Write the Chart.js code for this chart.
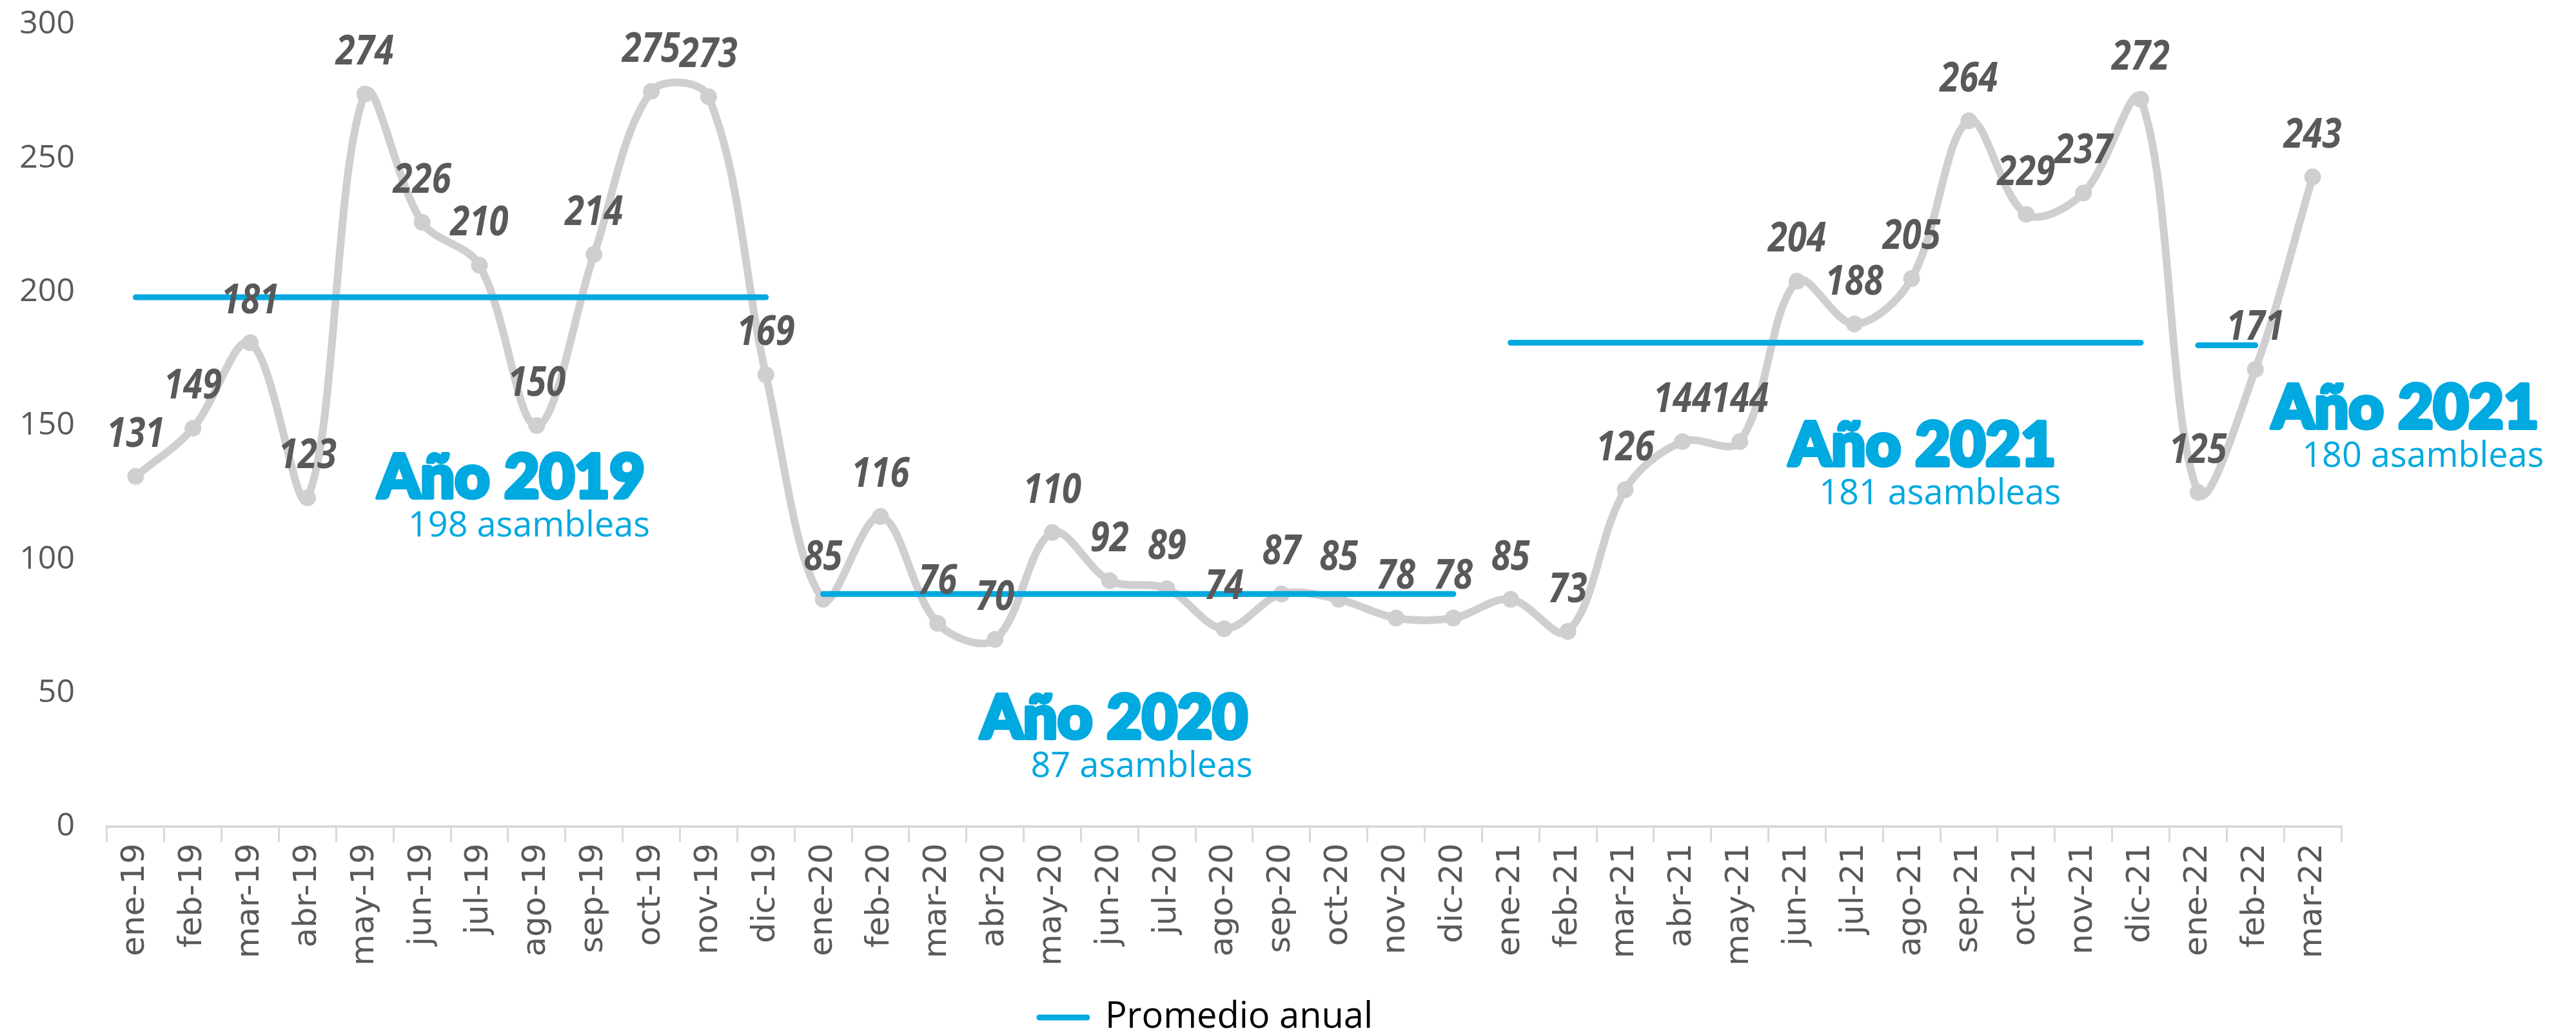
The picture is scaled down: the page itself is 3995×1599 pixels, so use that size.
<!DOCTYPE html>
<html>
<head>
<meta charset="utf-8">
<script src="https://cdn.jsdelivr.net/npm/chart.js@4"></script>
<style>
  html, body { margin: 0; padding: 0; background: #ffffff; }
  #wrap { width: 3995px; height: 1599px; position: relative; }
</style>
</head>
<body>
<div id="wrap"><canvas id="chart"></canvas></div>
<script>
// Asambleas por mes, ene-19 a mar-22
const meses = [
  'ene-19', 'feb-19', 'mar-19', 'abr-19', 'may-19', 'jun-19', 'jul-19', 'ago-19', 'sep-19', 'oct-19', 'nov-19', 'dic-19',
  'ene-20', 'feb-20', 'mar-20', 'abr-20', 'may-20', 'jun-20', 'jul-20', 'ago-20', 'sep-20', 'oct-20', 'nov-20', 'dic-20',
  'ene-21', 'feb-21', 'mar-21', 'abr-21', 'may-21', 'jun-21', 'jul-21', 'ago-21', 'sep-21', 'oct-21', 'nov-21', 'dic-21',
  'ene-22', 'feb-22', 'mar-22'
];

const asambleas = [
  131, 149, 181, 123, 274, 226, 210, 150, 214, 275, 273, 169,
  85, 116, 76, 70, 110, 92, 89, 74, 87, 85, 78, 78,
  85, 73, 126, 144, 144, 204, 188, 205, 264, 229, 237, 272,
  125, 171, 243
];

// Promedio anual (the 2022 line only spans ene-feb in the original)
const promedioAnual = [
  198, 198, 198, 198, 198, 198, 198, 198, 198, 198, 198, 198,
  87, 87, 87, 87, 87, 87, 87, 87, 87, 87, 87, 87,
  181, 181, 181, 181, 181, 181, 181, 181, 181, 181, 181, 181,
  180, 180, null
];

const yTicks = [0, 50, 100, 150, 200, 250, 300];

const notaTitulos = ['Año 2019', 'Año 2020', 'Año 2021', 'Año 2021'];
const notaTextos = ['198 asambleas', '87 asambleas', '181 asambleas', '180 asambleas'];

// where the year notes sit: [category index of right edge, value at title baseline]
const notaPos = [[8.91, 123], [19.43, 33], [33.54, 135], [41.97, 149]];

const BLUE = '#00A9E0';
const GREY = '#D0CECE';
const TEXT = '#595959';

// value labels above the grey line
const valueLabels = {
  id: 'valueLabels',
  afterDatasetsDraw(chart) {
    const meta = chart.getDatasetMeta(0);
    const ctx = chart.ctx;
    ctx.save();
    ctx.font = 'italic bold 64px "Open Sans", sans-serif';
    ctx.fillStyle = TEXT;
    ctx.textAlign = 'center';
    ctx.textBaseline = 'middle';
    meta.data.forEach((pt, i) => {
      ctx.save();
      ctx.translate(pt.x, pt.y - 64);
      ctx.scale(0.85, 1); // narrow digits, like the original font
      ctx.fillText(String(asambleas[i]), 0, 0);
      ctx.restore();
    });
    ctx.restore();
  }
};

// "Año XXXX / NN asambleas" notes
const yearNotes = {
  id: 'yearNotes',
  afterDraw(chart) {
    const ctx = chart.ctx;
    const xs = chart.scales.x;
    const ys = chart.scales.y;
    ctx.save();
    ctx.fillStyle = BLUE;
    ctx.strokeStyle = BLUE;
    ctx.lineJoin = 'round';
    ctx.textAlign = 'right';
    ctx.textBaseline = 'alphabetic';
    notaTitulos.forEach((t, i) => {
      const x = xs.getPixelForValue(notaPos[i][0]);
      const y = ys.getPixelForValue(notaPos[i][1]);
      ctx.font = '900 94px Lato, "Open Sans", sans-serif';
      ctx.lineWidth = 6;
      ctx.strokeText(t, x - 2, y);
      ctx.fillText(t, x - 2, y);
      ctx.font = '54px "Open Sans", sans-serif';
      ctx.fillText(notaTextos[i], x + 6, y + 60);
    });
    ctx.restore();
  }
};

// legend sits a little right of the layout centre in the original
const legendShift = {
  id: 'legendShift',
  beforeDraw(chart) {
    chart.legend.left += 42;
    chart.legend.right += 42;
  }
};

const chart = new Chart(document.getElementById('chart'), {
  type: 'line',
  data: {
    labels: meses,
    datasets: [
      {
        label: 'Asambleas',
        data: asambleas,
        borderColor: GREY,
        backgroundColor: GREY,
        borderWidth: 12,
        tension: 0.35,
        pointRadius: 13,
        pointBackgroundColor: GREY,
        pointBorderColor: GREY,
        pointBorderWidth: 0,
        order: 2
      },
      {
        label: 'Promedio anual',
        data: promedioAnual,
        borderColor: BLUE,
        backgroundColor: BLUE,
        borderWidth: 9,
        borderCapStyle: 'round',
        tension: 0,
        pointRadius: 0,
        spanGaps: false,
        segment: {
          borderColor: c => c.p0.parsed.y === c.p1.parsed.y ? BLUE : 'transparent'
        },
        order: 1
      }
    ]
  },
  options: {
    responsive: true,
    maintainAspectRatio: false,
    animation: false,
    layout: {
      padding: { left: 26, right: 364, top: 38, bottom: -17 }
    },
    scales: {
      x: {
        offset: true,
        afterFit: scale => {
          scale.height = 268;
        },
        grid: {
          display: true,
          drawOnChartArea: false,
          drawTicks: true,
          tickLength: 24,
          color: '#D9D9D9',
          lineWidth: 3,
          offset: true
        },
        border: { display: true, color: '#D9D9D9', width: 4 },
        ticks: {
          autoSkip: false,
          maxRotation: 90,
          minRotation: 90,
          padding: 2,
          color: TEXT,
          font: { family: 'DejaVu Sans', size: 50 }
        }
      },
      y: {
        min: 0,
        max: 300,
        afterBuildTicks: scale => {
          scale.ticks = yTicks.map(v => ({ value: v }));
        },
        afterFit: scale => {
          scale.width = 140;
        },
        // tick marks hidden; tickLength only sets the label gap
        grid: { display: false, tickLength: 50 },
        border: { display: false },
        ticks: {
          padding: 0,
          color: TEXT,
          font: { family: 'Open Sans', size: 50 }
        }
      }
    },
    plugins: {
      legend: {
        position: 'bottom',
        labels: {
          usePointStyle: true,
          pointStyleWidth: 74,
          boxHeight: 9,
          padding: 0,
          color: TEXT,
          font: { family: 'Open Sans', size: 56, lineHeight: 1 },
          generateLabels: () => [{
            text: 'Promedio anual',
            fillStyle: BLUE,
            strokeStyle: BLUE,
            lineWidth: 9,
            lineCap: 'round',
            pointStyle: 'line',
            hidden: false,
            datasetIndex: 1
          }]
        }
      },
      tooltip: { enabled: false }
    }
  },
  plugins: [valueLabels, yearNotes, legendShift]
});
</script>
</body>
</html>
